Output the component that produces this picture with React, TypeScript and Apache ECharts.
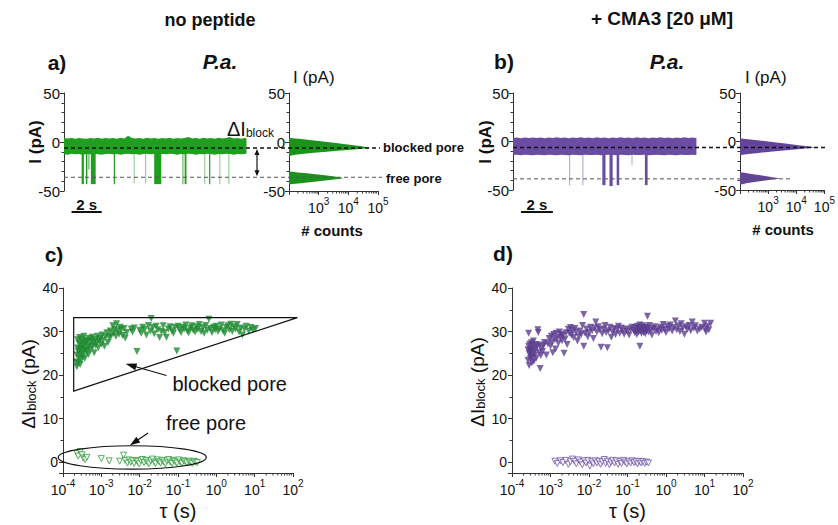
import React, { useEffect, useRef } from "react";
import * as echarts from "echarts";

const FONT = '"Liberation Sans", Arial, Helvetica, sans-serif';
const BLACK = "#111";
const AXIS = "#333";
const GREEN_TRACE = "#1f9e1f";
const GREEN_HIST = "#1a931a";
const GREEN_DOT = "#1d8a30";
const GREEN_OPEN = "#2f9b3c";
const PURPLE_TRACE = "#6a4ca2";
const PURPLE_HIST = "#62449a";
const PURPLE_DOT = "#5b3d8f";
const PURPLE_OPEN = "#6e52a6";

// ---------- panel a : current trace (no peptide) ----------
// envelope of the noisy open-channel band: [t (s), upper I (pA), lower I (pA)]
const traceBandA: number[][] = [
  [0, 4, -12.5], [0.25, 3.5, -13], [0.5, 4.2, -12], [0.75, 3.4, -12.6], [1, 4, -12.2], [1.25, 3.6, -13],
  [1.5, 3.3, -12.3], [1.75, 4, -12.6], [2, 3.6, -12], [2.25, 4.3, -12.4], [2.5, 3.3, -13], [2.75, 4, -12.3],
  [3, 3.6, -12], [3.25, 4, -12.6], [3.5, 3.4, -12.2], [3.75, 4.3, -13], [4, 3.6, -12.2], [4.25, 6.5, -12],
  [4.5, 4, -12.6], [4.75, 3.6, -12.2], [5, 4, -13], [5.25, 3.4, -12.2], [5.5, 4.3, -12], [5.75, 3.6, -12.6],
  [6, 4, -12.2], [6.25, 3.4, -13], [6.5, 4, -12.2], [6.75, 3.6, -12.6], [7, 4.3, -12], [7.25, 3.4, -12.3],
  [7.5, 4, -13], [7.75, 3.6, -12.2], [8, 4, -12.6], [8.25, 5, -12], [8.5, 3.6, -12.2], [8.75, 4, -13],
  [9, 3.4, -12.2], [9.25, 4.3, -12.6], [9.5, 3.6, -12], [9.75, 4, -12.3], [10, 3.4, -13], [10.25, 4.3, -12.2],
  [10.5, 3.6, -12.6], [10.75, 4, -12], [11, 5, -12.3], [11.25, 3.6, -13], [11.5, 4, -12.2], [11.75, 3.4, -12.6],
  [12, 4, -12.2], [12.1, 3.6, -12],
];
// blockade events: [t start, t end, level (pA), opacity]
const traceEventsA: number[][] = [
  [1.17, 1.32, -43, 1], [1.45, 1.55, -43, 1], [1.6, 1.7, -28, 0.6], [1.78, 2.1, -43, 1],
  [3.3, 3.38, -43, 1], [4.62, 4.68, -42, 0.55], [5.38, 5.44, -42, 0.55], [5.98, 6.45, -43, 1],
  [7.85, 7.92, -43, 0.8], [8.0, 8.12, -43, 1], [9.3, 9.36, -43, 0.55], [9.62, 9.7, -43, 1],
  [10.3, 10.36, -43, 0.55], [10.9, 10.96, -43, 0.55],
];
const levelsA = [-6, -36]; // blocked pore, free pore

// ---------- panel b : current trace (+ CMA3) ----------
const traceBandB: number[][] = [
  [0, 3.5, -14], [0.25, 4.2, -13.6], [0.5, 3.3, -14.3], [0.75, 4, -13.6], [1, 3.6, -14], [1.25, 4.2, -14.3],
  [1.5, 3.6, -13.6], [1.75, 4, -14], [2, 3.3, -14.3], [2.25, 4, -13.6], [2.5, 3.6, -14], [2.75, 4.3, -14.3],
  [3, 3.6, -13.6], [3.25, 4, -14], [3.5, 3.3, -14.3], [3.75, 4, -13.6], [4, 3.6, -14], [4.25, 4.3, -14.3],
  [4.5, 3.6, -13.6], [4.75, 4, -14], [5, 3.3, -14], [5.25, 4.3, -13.6], [5.5, 3.6, -14.3], [5.75, 4, -14],
  [6, 3.3, -13.6], [6.25, 4, -14], [6.5, 3.6, -14.3], [6.75, 4.3, -13.6], [7, 3.6, -14], [7.25, 4, -14.3],
  [7.5, 3.3, -13.6], [7.75, 4.3, -14], [8, 3.6, -14], [8.25, 4, -13.6], [8.5, 3.3, -14.3], [8.75, 4, -14],
  [9, 3.6, -13.6], [9.25, 4.3, -14], [9.5, 3.6, -14.3], [9.75, 4, -13.6], [10, 3.3, -14], [10.25, 4, -14.3],
  [10.5, 3.6, -13.6], [10.75, 4.3, -14], [11, 3.6, -14], [11.25, 4, -13.6], [11.5, 3.6, -14],
];
const traceEventsB: number[][] = [
  [3.52, 3.58, -45, 0.55], [4.35, 4.41, -45, 0.55], [5.6, 5.8, -45, 1], [6.05, 6.25, -46, 1],
  [6.5, 6.66, -45, 1], [7.43, 7.48, -24, 0.5], [8.27, 8.44, -45, 1],
];
const levelsB = [-6.3, -38.5];

// ---------- all-points histograms: [I (pA), counts] ----------
const histBlockedA: number[][] = [
  [4, 110], [3, 250], [2, 500], [1, 1000], [0, 2000], [-1, 3800], [-2, 7000], [-3, 13000], [-4, 24000],
  [-5, 40000], [-6, 58000], [-7, 30000], [-8, 12000], [-9, 4500], [-10, 1800], [-11, 700], [-12, 320],
  [-13, 160], [-14, 110],
];
const histFreeA: number[][] = [
  [-30, 110], [-31, 200], [-32, 400], [-33, 800], [-34, 1600], [-35, 3000], [-36, 5000], [-37, 7000],
  [-38, 4000], [-39, 2000], [-40, 1000], [-41, 500], [-42, 250], [-43, 110],
];
const histBlockedB: number[][] = [
  [3, 110], [2, 230], [1, 500], [0, 1000], [-1, 2000], [-2, 4000], [-3, 7500], [-4, 14000], [-5, 25000],
  [-6, 46000], [-7, 26000], [-8, 11000], [-9, 4500], [-10, 1800], [-11, 800], [-12, 380], [-13, 200],
  [-14, 110],
];
const histFreeB: number[][] = [
  [-32, 130], [-33, 200], [-34, 340], [-35, 600], [-36, 1000], [-37, 1600], [-38, 2700], [-39, 1700],
  [-40, 900], [-41, 500], [-42, 280], [-43, 170], [-44, 120],
];

// ---------- scatter: [tau (s), dI_block (pA)] ----------
const blockedC: number[][] = [
  [2.2e-4, 23.0], [2.3e-4, 24.6], [2.3e-4, 21.9], [2.4e-4, 26.2], [2.4e-4, 28.1], [2.5e-4, 22.8], [2.5e-4, 25.4],
  [2.6e-4, 27.3], [2.6e-4, 23.9], [2.7e-4, 28.6], [2.7e-4, 25.9], [2.8e-4, 22.4], [2.8e-4, 24.8], [2.9e-4, 27.0],
  [3.0e-4, 26.1], [3.0e-4, 23.5], [3.1e-4, 28.3], [3.2e-4, 25.0], [3.3e-4, 27.6], [3.3e-4, 24.2], [3.4e-4, 26.6],
  [3.5e-4, 28.9], [3.6e-4, 25.6], [3.7e-4, 23.8], [3.8e-4, 27.2], [3.9e-4, 26.0], [4.0e-4, 28.0], [4.2e-4, 25.3],
  [4.3e-4, 27.7], [4.5e-4, 26.4], [4.6e-4, 24.7], [4.8e-4, 28.4], [5.0e-4, 26.9], [5.2e-4, 25.8], [5.4e-4, 27.9],
  [5.7e-4, 28.7], [5.9e-4, 26.5], [6.2e-4, 27.4], [6.5e-4, 25.1], [6.8e-4, 28.2], [7.1e-4, 26.8], [7.5e-4, 27.6],
  [7.9e-4, 28.9], [8.3e-4, 26.3], [8.8e-4, 27.8],
  [9.3e-4, 28.4], [1.0e-3, 27.1], [1.05e-3, 29.2], [1.1e-3, 28.0], [1.2e-3, 26.6], [1.3e-3, 28.8], [1.4e-3, 29.7],
  [1.5e-3, 27.5], [1.6e-3, 28.6], [1.7e-3, 30.1], [1.8e-3, 29.0], [2.0e-3, 31.3], [2.1e-3, 29.6], [2.2e-3, 30.5],
  [2.4e-3, 28.9], [2.5e-3, 31.8], [2.7e-3, 30.2], [2.9e-3, 29.4], [3.1e-3, 31.0], [3.3e-3, 30.4], [3.6e-3, 29.1],
  [3.9e-3, 30.7], [4.2e-3, 28.5], [4.6e-3, 29.8], [6.0e-3, 30.6], [6.5e-3, 29.9], [7.2e-3, 30.8], [8.5e-3, 25.4],
  [1.0e-2, 30.3], [1.1e-2, 29.6], [1.2e-2, 31.0], [1.35e-2, 30.5], [1.5e-2, 29.2], [1.7e-2, 31.4], [1.9e-2, 30.1],
  [2.0e-2, 33.0], [2.2e-2, 30.9], [2.4e-2, 29.5], [2.7e-2, 31.2], [3.0e-2, 30.4], [3.3e-2, 28.6], [3.7e-2, 30.0],
  [4.1e-2, 31.3], [4.5e-2, 29.8], [5.0e-2, 28.7], [5.6e-2, 30.6], [6.2e-2, 31.1], [6.9e-2, 30.2], [7.6e-2, 29.6],
  [8.4e-2, 30.9], [9.3e-2, 25.5],
  [0.1, 31.2], [0.11, 30.4], [0.12, 29.8], [0.13, 31.0], [0.145, 30.6], [0.16, 31.5], [0.175, 30.1], [0.19, 29.7],
  [0.21, 30.8], [0.23, 31.3], [0.25, 30.3], [0.28, 29.9], [0.3, 31.1], [0.33, 30.5], [0.36, 31.6], [0.4, 30.0],
  [0.44, 30.9], [0.48, 29.6], [0.53, 31.4], [0.58, 30.3], [0.64, 32.8], [0.7, 30.7], [0.77, 29.8], [0.85, 31.0],
  [0.93, 30.4],
  [1.0, 31.2], [1.1, 30.0], [1.2, 30.6], [1.35, 31.5], [1.5, 30.2], [1.65, 29.6], [1.8, 30.9], [2.0, 31.3],
  [2.2, 30.4], [2.4, 31.7], [2.6, 30.0], [2.9, 31.1], [3.2, 30.6], [3.5, 31.6], [3.9, 29.9], [4.3, 30.8],
  [4.8, 29.2], [5.4, 30.5], [6.0, 31.2], [7.0, 30.1], [8.0, 30.9], [9.0, 30.3], [10.5, 30.7],
];
const freeC: number[][] = [
  [2.3e-4, 2.0], [2.5e-4, 1.4], [2.8e-4, 2.4], [3.1e-4, 1.7], [3.4e-4, 0.9], [3.8e-4, 0.6], [4.2e-4, 1.1],
  [1.0e-3, 0.8], [1.6e-3, 0.3], [3.0e-3, 0.2], [3.8e-3, 1.6], [4.2e-3, 0.4], [4.8e-3, -0.2], [5.3e-3, 0.5],
  [5.9e-3, 0.0], [6.5e-3, 0.3], [7.2e-3, -0.3], [8.0e-3, 0.4], [8.8e-3, 0.1], [9.7e-3, -0.4], [1.07e-2, 0.3],
  [1.18e-2, 0.6], [1.3e-2, -0.1], [1.45e-2, 0.4], [1.6e-2, 0.0], [1.75e-2, -0.4], [1.95e-2, 0.3], [2.15e-2, 0.7],
  [2.4e-2, 0.0], [2.6e-2, -0.3], [2.9e-2, 0.5], [3.2e-2, 0.1], [3.5e-2, -0.2], [3.9e-2, 0.4], [4.3e-2, 0.0],
  [4.7e-2, -0.4], [5.2e-2, 0.3], [5.7e-2, 0.6], [6.3e-2, 0.0], [7.0e-2, -0.3], [7.7e-2, 0.4], [8.5e-2, 0.1],
  [9.4e-2, -0.2], [0.104, 0.5], [0.115, 0.0], [0.127, -0.3], [0.14, 0.3], [0.155, 0.1], [0.17, -0.2],
  [0.19, 0.2], [0.21, 0.0], [0.235, -0.3], [0.26, 0.2], [0.29, 0.0], [0.32, -0.1],
];
const blockedD: number[][] = [
  [2.6e-4, 25.8], [2.6e-4, 23.4], [2.7e-4, 26.6], [2.7e-4, 29.6], [2.8e-4, 22.2], [2.8e-4, 24.9], [2.9e-4, 27.1],
  [2.9e-4, 25.3], [3.0e-4, 23.8], [3.0e-4, 26.0], [3.1e-4, 24.4], [3.2e-4, 27.4], [3.2e-4, 25.6], [3.3e-4, 22.8],
  [3.4e-4, 26.8], [3.4e-4, 24.1], [3.5e-4, 25.0], [3.6e-4, 27.8], [3.7e-4, 23.2], [3.8e-4, 26.3], [3.9e-4, 24.6],
  [4.0e-4, 25.7], [4.2e-4, 27.0], [4.3e-4, 23.9], [4.5e-4, 26.5], [4.7e-4, 30.4], [4.8e-4, 29.8], [5.0e-4, 25.2],
  [5.2e-4, 26.9], [5.4e-4, 21.5], [5.6e-4, 24.5], [5.9e-4, 26.2], [6.2e-4, 25.4], [6.6e-4, 26.8], [7.0e-4, 27.5],
  [7.8e-4, 24.6], [8.5e-4, 27.2], [9.2e-4, 28.4], [1.0e-3, 26.7], [1.05e-3, 28.9], [1.1e-3, 27.6], [1.15e-3, 25.1],
  [1.2e-3, 29.3], [1.3e-3, 28.1], [1.35e-3, 26.0], [1.4e-3, 29.6], [1.5e-3, 28.5], [1.6e-3, 27.3], [1.7e-3, 29.9],
  [1.8e-3, 28.7], [1.9e-3, 29.4], [2.0e-3, 27.9], [2.1e-3, 29.1], [2.25e-3, 25.0], [2.4e-3, 28.3], [2.55e-3, 29.7],
  [2.7e-3, 27.0],
  [2.9e-3, 30.5], [3.1e-3, 29.6], [3.3e-3, 30.9], [3.5e-3, 29.2], [3.7e-3, 30.3], [4.0e-3, 28.6], [4.3e-3, 30.7],
  [4.6e-3, 29.9], [5.0e-3, 27.8], [5.4e-3, 28.9], [5.8e-3, 30.1], [6.3e-3, 29.3], [6.8e-3, 31.4], [7.3e-3, 33.9],
  [7.3e-3, 26.6], [7.9e-3, 29.6], [8.6e-3, 30.6], [9.3e-3, 28.8], [1.0e-2, 29.8], [1.1e-2, 31.0], [1.2e-2, 30.2],
  [1.3e-2, 28.4],
  [1.4e-2, 30.8], [1.5e-2, 32.2], [1.6e-2, 29.9], [1.75e-2, 31.1], [1.9e-2, 30.4], [2.05e-2, 26.4], [2.2e-2, 29.5],
  [2.4e-2, 30.6], [2.6e-2, 31.4], [2.8e-2, 29.8], [3.0e-2, 26.3], [3.2e-2, 30.2], [3.5e-2, 31.0], [3.8e-2, 28.7],
  [4.1e-2, 29.9], [4.5e-2, 30.7], [4.9e-2, 29.3], [5.3e-2, 30.4], [5.8e-2, 31.2], [6.3e-2, 29.6], [6.9e-2, 30.8],
  [7.5e-2, 30.1], [8.2e-2, 29.4], [9.0e-2, 30.6], [0.1, 30.0], [0.11, 29.2], [0.12, 30.5], [0.13, 31.0],
  [0.145, 30.3], [0.155, 29.7], [0.16, 30.9], [0.17, 30.1], [0.175, 29.3], [0.18, 31.2], [0.19, 30.5],
  [0.195, 29.9], [0.2, 30.7], [0.21, 26.6], [0.21, 31.5], [0.22, 30.2], [0.23, 29.6], [0.24, 30.8], [0.25, 31.3],
  [0.26, 29.8], [0.27, 30.4], [0.28, 30.9], [0.29, 29.5], [0.3, 30.1], [0.31, 31.0], [0.33, 33.5], [0.33, 30.6],
  [0.35, 29.9], [0.37, 31.4], [0.4, 30.3], [0.43, 29.2], [0.46, 30.7], [0.5, 31.1], [0.55, 30.0], [0.6, 30.6],
  [0.65, 29.7],
  [0.72, 31.0], [0.78, 30.3], [0.85, 31.6], [0.92, 30.5], [1.0, 29.8], [1.1, 31.2], [1.2, 30.6], [1.3, 31.5],
  [1.45, 30.1], [1.6, 30.9], [1.75, 32.4], [1.9, 30.4], [2.1, 31.3], [2.3, 30.0], [2.5, 31.8], [2.7, 30.7],
  [3.0, 29.4], [3.3, 31.1], [3.6, 30.5], [4.0, 31.4], [4.4, 30.2], [4.8, 32.2], [5.3, 30.8], [5.8, 31.3],
  [6.5, 30.1], [7.5, 30.6], [8.5, 31.0], [10.0, 31.9], [10.5, 30.6], [11.0, 29.9], [12.0, 31.2], [13.0, 30.4],
  [14.5, 31.9],
];
const freeD: number[][] = [
  [1.3e-3, 0.2], [1.5e-3, -0.3], [1.8e-3, 0.3], [2.1e-3, -0.1], [2.5e-3, 0.4], [2.9e-3, -0.5], [3.3e-3, 0.1],
  [3.7e-3, 0.7], [4.2e-3, 0.2], [4.7e-3, -0.4], [5.3e-3, 0.5], [6.0e-3, 0.0], [6.7e-3, -0.6], [7.5e-3, 0.3],
  [8.4e-3, -0.2], [9.4e-3, 0.4], [1.05e-2, -0.9], [1.17e-2, 0.1], [1.3e-2, -0.4], [1.45e-2, 0.3], [1.6e-2, -0.2],
  [1.8e-2, 0.2], [2.0e-2, -0.5], [2.2e-2, 0.1], [2.5e-2, 0.6], [2.7e-2, -0.3], [3.0e-2, 0.2], [3.4e-2, -0.6],
  [3.7e-2, 0.0], [4.1e-2, 0.4], [4.6e-2, -0.2], [5.1e-2, 0.3], [5.7e-2, -0.5], [6.3e-2, 0.1], [7.0e-2, -0.3],
  [7.8e-2, 0.4], [8.7e-2, 0.0], [9.6e-2, -0.4], [0.107, 0.2], [0.12, -0.2], [0.133, 0.3], [0.148, -0.1],
  [0.165, 0.1], [0.183, -0.4], [0.2, 0.2], [0.225, -0.2], [0.25, 0.1], [0.28, -0.3], [0.31, 0.0], [0.35, -0.2],
];

// axis ranges / ticks
const traceYRange = [-50, 50];
const histXRange = [100, 100000];
const tauRange = [1e-4, 100];
const dIRange = [-2.5, 40];
const minorMultipliers = [2, 3, 4, 5, 6, 7, 8, 9];

const GRIDS = [
  { left: 64, top: 93, width: 184, height: 98 },
  { left: 289, top: 93, width: 89, height: 98 },
  { left: 513, top: 93, width: 185, height: 97 },
  { left: 740, top: 93, width: 90, height: 97 },
  { left: 63, top: 288, width: 230, height: 185 },
  { left: 512, top: 288, width: 231, height: 185 },
];

function minorLogValues(lo: number, hi: number) {
  const out: number[] = [];
  for (let d = lo; d < hi; d *= 10) minorMultipliers.forEach((m) => out.push(d * m));
  return out;
}

const lineStyle = { color: AXIS, width: 1 };

function supLabel(size: number, sup: number, hideFirst: boolean) {
  return {
    margin: 5,
    formatter: (v: number) => {
      const e = Math.round(Math.log10(v));
      if (hideFirst && e === 2) return "";
      return `{b|10}{s|${e}}`;
    },
    rich: {
      b: { fontFamily: FONT, fontSize: size, color: BLACK, lineHeight: size + 5, verticalAlign: "bottom" },
      s: { fontFamily: FONT, fontSize: sup, color: BLACK, lineHeight: sup + 1, verticalAlign: "top" },
    },
  };
}

function traceYAxis(i: number) {
  return {
    type: "value", gridIndex: i, min: traceYRange[0], max: traceYRange[1], interval: 50,
    axisLine: { show: true, lineStyle },
    axisTick: { show: true, length: 4, lineStyle },
    minorTick: { show: true, splitNumber: 5, length: 2.5, lineStyle },
    splitLine: { show: false },
    axisLabel: { fontFamily: FONT, fontSize: 15, color: BLACK, margin: 4 },
  };
}

function histXAxis(i: number) {
  return {
    type: "log", gridIndex: i, logBase: 10, min: histXRange[0], max: histXRange[1],
    axisLine: { show: true, onZero: false, lineStyle },
    axisTick: { show: true, length: 4, lineStyle },
    splitLine: { show: false },
    axisLabel: supLabel(14, 10, true),
  };
}

function tauXAxis(i: number) {
  return {
    type: "log", gridIndex: i, logBase: 10, min: tauRange[0], max: tauRange[1],
    axisLine: { show: true, onZero: false, lineStyle },
    axisTick: { show: true, length: 4, lineStyle },
    splitLine: { show: false },
    axisLabel: supLabel(14, 10, false),
  };
}

function dIYAxis(i: number) {
  return {
    type: "value", gridIndex: i, min: dIRange[0], max: dIRange[1],
    axisLine: { show: true, onZero: false, lineStyle },
    axisTick: { show: true, length: 4, lineStyle },
    minorTick: { show: true, splitNumber: 2, length: 2.5, lineStyle },
    splitLine: { show: false },
    axisLabel: {
      fontFamily: FONT, fontSize: 14, color: BLACK, margin: 5,
      formatter: (v: number) => (Math.abs(v % 10) < 1e-6 ? String(v) : ""),
    },
  };
}

function bandSeries(i: number, band: number[][], color: string) {
  return {
    type: "custom", xAxisIndex: i, yAxisIndex: i, silent: true, z: 2,
    data: band.map((b) => [b[0], b[1]]),
    renderItem: (params: any, api: any) => {
      if (params.dataIndex !== 0) return null;
      const upper = band.map((b) => api.coord([b[0], b[1]]));
      const lower = band.slice().reverse().map((b) => api.coord([b[0], b[2]]));
      return { type: "polygon", shape: { points: upper.concat(lower) }, style: { fill: color } };
    },
  };
}

function eventSeries(i: number, events: number[][], color: string) {
  return {
    type: "custom", xAxisIndex: i, yAxisIndex: i, silent: true, z: 3,
    data: events,
    encode: { x: [0, 1], y: 2 },
    renderItem: (params: any, api: any) => {
      const p0 = api.coord([api.value(0), -6]);
      const p1 = api.coord([api.value(1), api.value(2)]);
      return {
        type: "rect",
        shape: { x: p0[0], y: p0[1], width: Math.max(1, p1[0] - p0[0]), height: p1[1] - p0[1] },
        style: { fill: color, opacity: api.value(3) },
      };
    },
  };
}

function histSeries(i: number, hist: number[][], color: string) {
  return {
    type: "custom", xAxisIndex: i, yAxisIndex: i, silent: true, z: 2,
    data: hist.map((h) => [h[1], h[0]]),
    renderItem: (params: any, api: any) => {
      if (params.dataIndex !== 0) return null;
      const pts = [api.coord([histXRange[0], hist[0][0]])]
        .concat(hist.map((h) => api.coord([h[1], h[0]])))
        .concat([api.coord([histXRange[0], hist[hist.length - 1][0]])]);
      return { type: "polygon", shape: { points: pts }, style: { fill: color } };
    },
  };
}

function minorTickSeries(i: number, values: number[], yMin: number) {
  return {
    type: "custom", xAxisIndex: i, yAxisIndex: i, silent: true, clip: false,
    data: values.map((v) => [v, yMin]),
    renderItem: (params: any, api: any) => {
      const c = api.coord([api.value(0), api.value(1)]);
      return { type: "line", shape: { x1: c[0], y1: c[1], x2: c[0], y2: c[1] + 2.5 }, style: { stroke: AXIS, lineWidth: 1 } };
    },
  };
}

function scatter(i: number, data: number[][], color: string, hollow: boolean) {
  return {
    type: "scatter", xAxisIndex: i, yAxisIndex: i, silent: true, data,
    symbol: "triangle", symbolRotate: 180, symbolSize: hollow ? 6 : 7,
    itemStyle: hollow ? { color: "#fff", borderColor: color, borderWidth: 1 } : { color },
    z: 3,
  };
}

function buildOption() {
  return {
    animation: false,
    backgroundColor: "#fff",
    grid: GRIDS.map((g) => ({ ...g, containLabel: false })),
    xAxis: [
      { type: "value", gridIndex: 0, min: 0, max: 12.2, show: false },
      histXAxis(1),
      { type: "value", gridIndex: 2, min: 0, max: 11.6, show: false },
      histXAxis(3),
      tauXAxis(4),
      tauXAxis(5),
    ],
    yAxis: [traceYAxis(0), traceYAxis(1), traceYAxis(2), traceYAxis(3), dIYAxis(4), dIYAxis(5)],
    series: [
      bandSeries(0, traceBandA, GREEN_TRACE),
      eventSeries(0, traceEventsA, GREEN_TRACE),
      histSeries(1, histBlockedA, GREEN_HIST),
      histSeries(1, histFreeA, GREEN_HIST),
      minorTickSeries(1, minorLogValues(100, 100000), traceYRange[0]),
      bandSeries(2, traceBandB, PURPLE_TRACE),
      eventSeries(2, traceEventsB, PURPLE_TRACE),
      histSeries(3, histBlockedB, PURPLE_HIST),
      histSeries(3, histFreeB, PURPLE_HIST),
      minorTickSeries(3, minorLogValues(100, 100000), traceYRange[0]),
      scatter(4, blockedC, GREEN_DOT, false),
      scatter(4, freeC, GREEN_OPEN, true),
      minorTickSeries(4, minorLogValues(1e-4, 100), dIRange[0]),
      scatter(5, blockedD, PURPLE_DOT, false),
      scatter(5, freeD, PURPLE_OPEN, true),
      minorTickSeries(5, minorLogValues(1e-4, 100), dIRange[0]),
    ],
  };
}

function buildGraphics(chart: any) {
  const px = (i: number, x: number, y: number): number[] =>
    chart.convertToPixel({ xAxisIndex: i, yAxisIndex: i }, [x, y]);
  const g: any[] = [];
  const text = (x: number, y: number, t: string, st: any = {}, extra: any = {}) =>
    g.push({
      type: "text", x, y, silent: true, z: 10, ...extra,
      style: { text: t, fontFamily: FONT, fontSize: 15, fill: BLACK, align: "center", verticalAlign: "middle", ...st },
    });
  const line = (x1: number, y1: number, x2: number, y2: number, st: any = {}) =>
    g.push({ type: "line", silent: true, z: 9, shape: { x1, y1, x2, y2 }, style: { stroke: BLACK, lineWidth: 1, ...st } });
  const arrow = (x1: number, y1: number, x2: number, y2: number, head = 10, w = 3.5) => {
    const dx = x2 - x1, dy = y2 - y1, L = Math.hypot(dx, dy);
    const ux = dx / L, uy = dy / L;
    const bx = x2 - ux * head, by = y2 - uy * head;
    line(x1, y1, bx + ux * 2, by + uy * 2, { lineWidth: 1.2 });
    g.push({
      type: "polygon", silent: true, z: 9,
      shape: { points: [[x2, y2], [bx - uy * w, by + ux * w], [bx + uy * w, by - ux * w]] },
      style: { fill: BLACK },
    });
  };
  const sub = (big: number, small: number, smallLH: number) => ({
    a: { fontFamily: FONT, fontSize: big, fill: BLACK, lineHeight: big + 3, verticalAlign: "bottom" },
    b: { fontFamily: FONT, fontSize: small, fill: BLACK, lineHeight: smallLH, verticalAlign: "bottom" },
  });

  // titles
  text(210, 20, "no peptide", { fontWeight: "bold", fontSize: 18 });
  text(662, 18, "+ CMA3 [20 μM]", { fontWeight: "bold", fontSize: 19 });
  text(57, 62, "a)", { fontWeight: "bold", fontSize: 21 });
  text(504, 61, "b)", { fontWeight: "bold", fontSize: 21 });
  text(54, 254, "c)", { fontWeight: "bold", fontSize: 21 });
  text(503, 253, "d)", { fontWeight: "bold", fontSize: 21 });
  text(220, 61, "P.a.", { fontWeight: "bold", fontStyle: "italic", fontSize: 21 });
  text(667, 61, "P.a.", { fontWeight: "bold", fontStyle: "italic", fontSize: 21 });

  // trace axis titles
  text(0, 0, "I (pA)", { fontWeight: "bold", fontSize: 17 }, { x: 35, y: 142, rotation: Math.PI / 2 });
  text(0, 0, "I (pA)", { fontWeight: "bold", fontSize: 17 }, { x: 485, y: 142, rotation: Math.PI / 2 });
  // histogram axis titles
  text(293, 77, "I (pA)", { fontSize: 17, align: "left" });
  text(745, 77, "I (pA)", { fontSize: 17, align: "left" });
  text(332, 230, "# counts", { fontWeight: "bold", fontSize: 15 });
  text(783, 229, "# counts", { fontWeight: "bold", fontSize: 15 });

  // dashed level lines and labels
  const yAb = px(0, 0, levelsA[0])[1], yAf = px(0, 0, levelsA[1])[1];
  const yBb = px(2, 0, levelsB[0])[1], yBf = px(2, 0, levelsB[1])[1];
  const xA0 = px(0, 0, 0)[0], xB0 = px(2, 0, 0)[0];
  line(xA0, yAb, 380, yAb, { lineWidth: 1.5, lineDash: [4, 3] });
  line(xA0, yAf, 382, yAf, { lineWidth: 1, lineDash: [4, 3], stroke: "#555" });
  line(xB0, yBb, 826, yBb, { lineWidth: 1.5, lineDash: [4, 3] });
  line(xB0, yBf, 790, yBf, { lineWidth: 1, lineDash: [4, 3], stroke: "#555" });
  text(383, yAb, "blocked pore", { fontWeight: "bold", fontSize: 13, align: "left" });
  text(386, yAf + 1, "free pore", { fontWeight: "bold", fontSize: 13, align: "left" });

  // Delta I_block with double arrow
  text(227, 127, "{a|ΔI}{b|block}", { align: "left", rich: sub(20, 12, 17) });
  const ax = 257;
  arrow(ax, (yAb + yAf) / 2, ax, yAb + 1, 6, 2.5);
  arrow(ax, (yAb + yAf) / 2, ax, yAf - 1, 6, 2.5);

  // scale bars
  const sbA = [px(0, 0.5, 0)[0], px(0, 2.5, 0)[0]];
  const sbB = [px(2, 0.5, 0)[0], px(2, 2.5, 0)[0]];
  line(sbA[0], 212, sbA[1], 212, { lineWidth: 2 });
  line(sbB[0], 212, sbB[1], 212, { lineWidth: 2 });
  text((sbA[0] + sbA[1]) / 2, 204, "2 s", { fontWeight: "bold", fontSize: 15 });
  text((sbB[0] + sbB[1]) / 2, 204, "2 s", { fontWeight: "bold", fontSize: 15 });

  // panel c annotations
  const t1 = px(4, 1.9e-4, 33.2), t2 = px(4, 130, 33.2), t3 = px(4, 1.9e-4, 16.3);
  g.push({ type: "polygon", silent: true, z: 8, shape: { points: [t1, t2, t3] }, style: { fill: "none", stroke: BLACK, lineWidth: 1.2 } });
  const ec = px(4, 6.4e-3, 1.07);
  g.push({ type: "ellipse", silent: true, z: 8, shape: { cx: ec[0], cy: ec[1], rx: 74, ry: 11.7 }, style: { fill: "none", stroke: BLACK, lineWidth: 1.2 } });
  const ab1 = px(4, 5e-2, 19.9), ab2 = px(4, 4.3e-3, 22.6);
  arrow(ab1[0], ab1[1], ab2[0], ab2[1], 11, 3.5);
  text(ab1[0] + 6, ab1[1] + 9, "blocked pore", { fontSize: 20, align: "left" });
  const af1 = px(4, 1.66e-2, 6.67), af2 = px(4, 5.6e-3, 3.9);
  arrow(af1[0], af1[1], af2[0], af2[1], 10, 3.5);
  text(166, 423, "free pore", { fontSize: 20, align: "left" });

  // scatter axis titles
  const ylab = "{a|ΔI}{b|block}{a| (pA)}";
  text(0, 0, ylab, { rich: sub(19, 13, 13) }, { x: 27, y: 384, rotation: Math.PI / 2 });
  text(0, 0, ylab, { rich: sub(19, 13, 13) }, { x: 476, y: 382, rotation: Math.PI / 2 });
  text((px(4, 1e-4, 0)[0] + px(4, 100, 0)[0]) / 2, 511, "τ (s)", { fontSize: 20 });
  text((px(5, 1e-4, 0)[0] + px(5, 100, 0)[0]) / 2, 511, "τ (s)", { fontSize: 20 });

  return g;
}

export default function App() {
  const ref = useRef<HTMLDivElement>(null);
  useEffect(() => {
    const chart = echarts.init(ref.current!, null, { renderer: "svg" });
    chart.setOption(buildOption() as any);
    chart.setOption({ graphic: buildGraphics(chart) } as any);
    return () => chart.dispose();
  }, []);
  return (
    <div
      ref={ref}
      style={{ position: "fixed", left: 0, top: 0, width: 838, height: 525, background: "#fff" }}
    />
  );
}
